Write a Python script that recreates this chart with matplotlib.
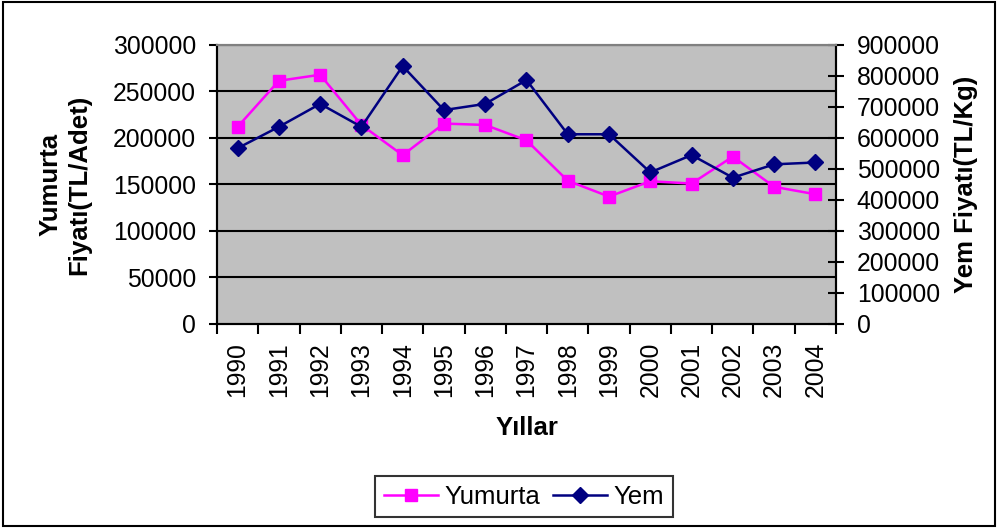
import matplotlib
matplotlib.use("Agg")
import matplotlib.pyplot as plt
from matplotlib.lines import Line2D
from matplotlib.patches import Rectangle
import numpy as np

years = ["1990", "1991", "1992", "1993", "1994", "1995", "1996", "1997",
         "1998", "1999", "2000", "2001", "2002", "2003", "2004"]
yumurta = [212000, 261500, 268000, 214000, 181500, 215500, 214000, 197500,
           154000, 137000, 153500, 151000, 180000, 147500, 139500]
yem = [567000, 636000, 710000, 636000, 832000, 690000, 710000, 787000,
       612000, 612000, 489000, 545000, 472000, 515000, 521000]
left_ticks = [0, 50000, 100000, 150000, 200000, 250000, 300000]
right_ticks = [0, 100000, 200000, 300000, 400000, 500000, 600000, 700000, 800000, 900000]

PINK = "#FF00FF"
NAVY = "#000080"
FONT = "Liberation Sans"
plt.rcParams["font.family"] = [FONT, "DejaVu Sans"]

fig = plt.figure(figsize=(9.98, 5.28), dpi=100)
ax = fig.add_axes([0.2174, 0.3864, 0.8377 - 0.2174, 0.9148 - 0.3864])
ax2 = ax.twinx()

ax.set_facecolor("#C0C0C0")
x = np.arange(len(years)) + 0.5

ax.set_xlim(0, len(years))
ax.set_ylim(0, 300000)
ax2.set_ylim(0, 900000)

for v in left_ticks[1:]:
    ax.axhline(v, color="black", lw=1.5, zorder=1)

ax.plot(x, yumurta, color=PINK, lw=1.8, marker="s", ms=9, zorder=3, clip_on=False)
ax2.plot(x, yem, color=NAVY, lw=1.8, marker="D", ms=8, zorder=3, clip_on=False)

ax.set_yticks(left_ticks)
ax.set_yticklabels([str(v) for v in left_ticks], fontsize=17.8)
ax.tick_params(axis="y", direction="out", length=6, width=1.5, pad=9)

ax2.set_yticks(right_ticks)
ax2.set_yticklabels([str(v) for v in right_ticks], fontsize=17.8)
ax2.tick_params(axis="y", direction="inout", length=12, width=1.5, pad=9)

ax.set_xticks(np.arange(len(years) + 1))
ax.set_xticklabels([])
ax.tick_params(axis="x", which="major", direction="out", length=7, width=1.5)
ax.set_xticks(x, minor=True)
ax.set_xticklabels(years, minor=True, rotation=90, fontsize=17.8)
ax.tick_params(axis="x", which="minor", length=0, pad=13)

for a in (ax, ax2):
    a.spines["top"].set_color("#808080")
    a.spines["top"].set_linewidth(1.5)
    a.spines["left"].set_linewidth(1.5)
    a.spines["right"].set_linewidth(1.5)
    a.spines["bottom"].set_linewidth(1.5)

fig.text(0.5276, 1 - 428 / 528, "Yıllar", fontsize=18.5, fontweight="bold",
         ha="center", va="center")
fig.text(65 / 998, 1 - 184.5 / 528, "Yumurta\nFiyatı(TL/Adet)", fontsize=18.5,
         fontweight="bold", ha="center", va="center", rotation=90, linespacing=1.25)
fig.text(966 / 998, 1 - 184.5 / 528, "Yem Fiyatı(TL/Kg)", fontsize=18.5,
         fontweight="bold", ha="center", va="center", rotation=90)

handles = [Line2D([], [], color=PINK, lw=1.8, marker="s", ms=9),
           Line2D([], [], color=NAVY, lw=1.8, marker="D", ms=8)]
leg = fig.legend(handles, ["Yumurta", "Yem"], loc="center",
                 bbox_to_anchor=(524 / 998, 1 - 496.5 / 528), ncol=2,
                 fontsize=18.5, frameon=True, fancybox=False, edgecolor="black",
                 handlelength=2.1, handletextpad=0.25, columnspacing=0.5,
                 borderpad=0.35, borderaxespad=0)
leg.get_frame().set_linewidth(1.5)

fig.patches.append(Rectangle((0.003, 0.003), 0.994, 0.994, transform=fig.transFigure,
                             fill=False, edgecolor="black", lw=1.5))

fig.savefig("out.png", dpi=100)
